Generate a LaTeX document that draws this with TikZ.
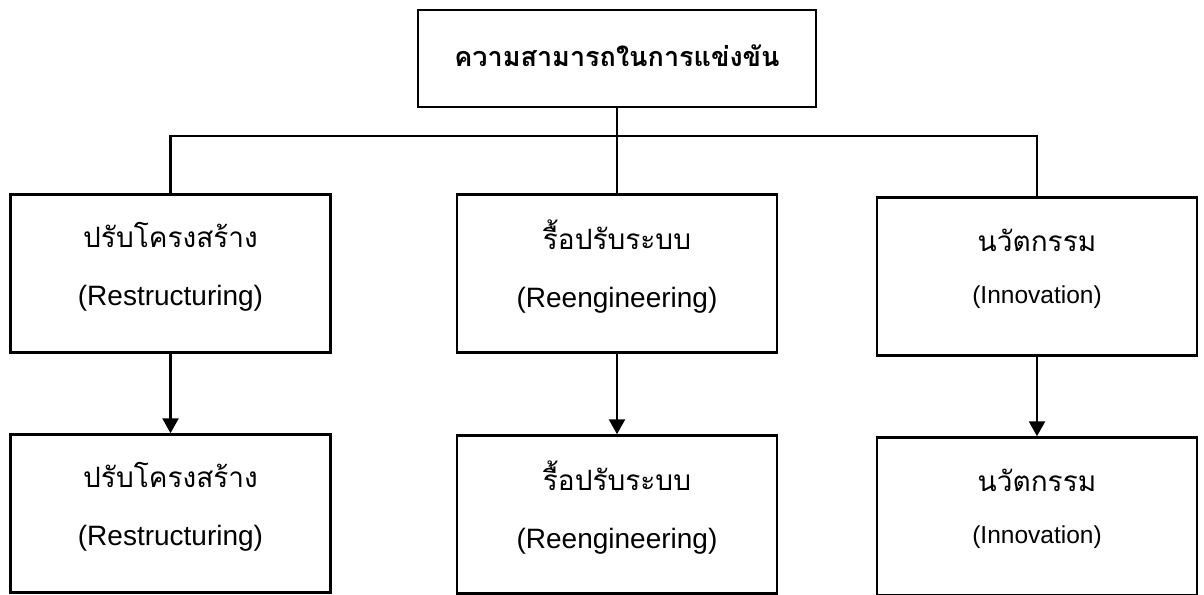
\documentclass[tikz,border=0pt]{standalone}
\usepackage{fontspec}
\setmainfont{Liberation Sans}
\newfontfamily\thaifont[Script=Thai]{Loma}
\usetikzlibrary{arrows.meta}

\newcommand{\thai}[1]{{\thaifont\fontsize{28}{58}\selectfont #1}}

\begin{document}
\begin{tikzpicture}[x=1pt, y=-1pt,
box/.style={rectangle, draw, line width=2.5pt, minimum width=320pt, minimum height=158pt,
            align=center, inner sep=0pt, text depth=20pt, font=\fontsize{28}{58}\selectfont},
goalbox/.style={box, text depth=6pt, minimum width=398pt, minimum height=97pt},
small/.style={font=\fontsize{24.5}{52}\selectfont},
edge/.style={line width=2.5pt},
arrow/.style={edge, -{Triangle[length=15pt, width=16pt]}}]

%% local variables
\def \xl {170.5}
\def \xm {617}
\def \xr {1037}
\def \yt {273.5}
\def \yb {513.5}

\useasboundingbox (0,0) rectangle (1204,594);

%% goal on top
\node[goalbox] (top) at (\xm,58.5) {{\thaifont\bfseries\fontsize{27}{40}\selectfont ความสามารถในการแข่งขัน}};

%% first row of boxes
\node[box] (L-1) at (\xl,\yt) {\thai{ปรับโครงสร้าง}\\(Restructuring)};
\node[box] (M-1) at (\xm,\yt) {\thai{รื้อปรับระบบ}\\(Reengineering)};
\node[box,small] (R-1) at (\xr,\yt+3) {\thai{นวัตกรรม}\\(Innovation)};

%% second row of boxes
\node[box] (L-2) at (\xl,\yb) {\thai{ปรับโครงสร้าง}\\(Restructuring)};
\node[box] (M-2) at (\xm,\yb+1) {\thai{รื้อปรับระบบ}\\(Reengineering)};
\node[box,small] (R-2) at (\xr,\yb+3) {\thai{นวัตกรรม}\\(Innovation)};

%% branching lines
\coordinate (bus) at (\xm,136);
\draw[edge] (L-1.north) |- (bus) -| (R-1.north);
\draw[edge] (top.south) -- (M-1.north);

%% arrows down
\foreach \c in {L,M,R}
      \draw[arrow] (\c-1) -- (\c-2);

\end{tikzpicture}
\end{document}
